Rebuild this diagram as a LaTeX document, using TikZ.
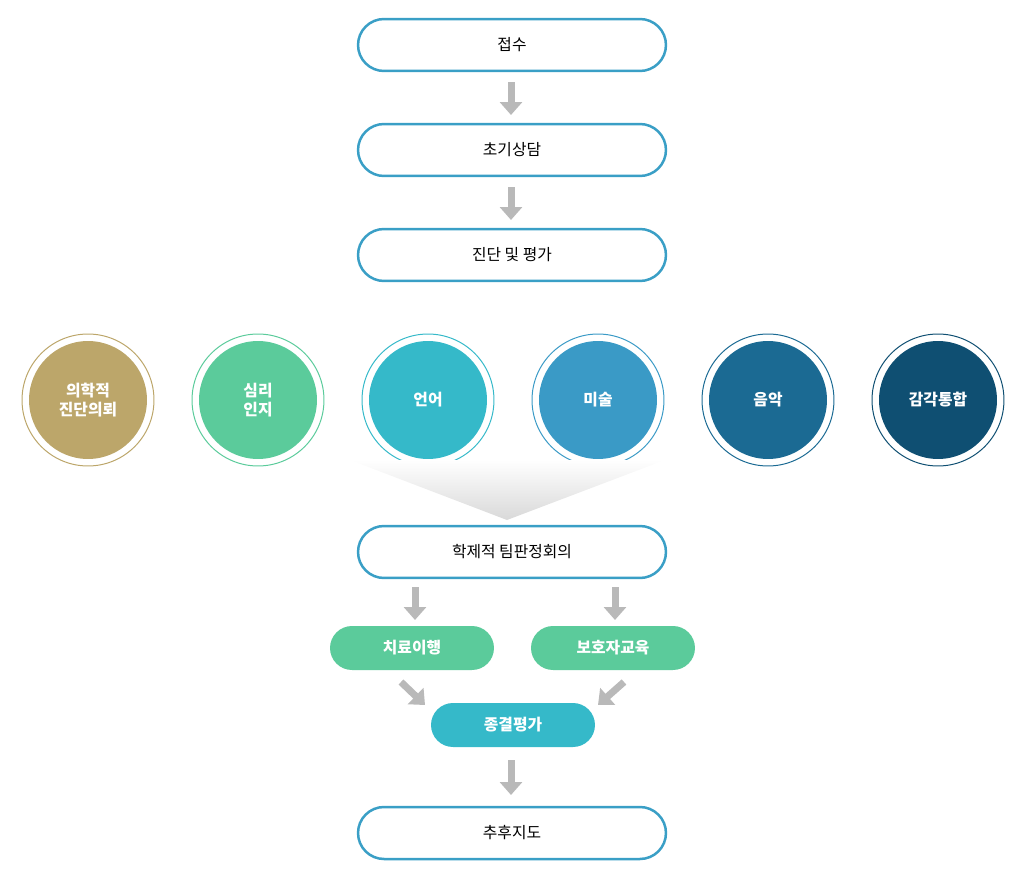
\documentclass[tikz,border=0pt]{standalone}
\usepackage{fontspec}
\setmainfont{Noto Sans CJK KR}
\usetikzlibrary{arrows.meta,positioning}
\definecolor{boxline}{HTML}{3A9FC6}
\definecolor{cgold}{HTML}{BCA66A}
\definecolor{cgreen}{HTML}{5BCB9B}
\definecolor{cteal}{HTML}{35B9C9}
\definecolor{cblue}{HTML}{3A9AC6}
\definecolor{cnavy}{HTML}{1B6A93}
\definecolor{cdeep}{HTML}{0F4F72}
\tikzset{
  stepbox/.style = {draw=boxline, line width=0.05cm, rounded corners=0.52cm,
    minimum width=6.16cm, minimum height=1.04cm, font=\small},
  pill/.style = {fill=#1, rounded corners=0.44cm, minimum width=3.28cm,
    minimum height=0.88cm, text=white, font=\small\bfseries},
  field/.style = {circle, fill=#1, minimum size=2.36cm, text=white,
    font=\small\bfseries, align=center, inner sep=0pt},
  ring/.style = {circle, draw=#1, line width=0.02cm, minimum size=2.64cm},
  flow/.style = {gray!55, line width=0.14cm,
    -{Triangle[width=0.44cm, length=0.26cm]}}
}
\begin{document}
\begin{tikzpicture}[x=0.02cm, y=-0.02cm]
		\useasboundingbox (0,0) rectangle (1022,889);
		%--------------------
		\node[stepbox] (reception) at (512,45) {접수};
		\node[stepbox] (intake) at (512,150) {초기상담};
		\node[stepbox] (assess) at (512,255) {진단 및 평가};

		\draw[flow] (511,82) -- (511,115);
		\draw[flow] (511,187) -- (511,220);

		%--------------------
		\foreach \x/\c/\t [count=\i] in {88/cgold/{의학적\\진단의뢰}, 258/cgreen/{심리\\인지},
		    428/cteal/언어, 598/cblue/미술, 768/cnavy/음악, 938/cdeep/감각통합}{
			\node[ring=\c] (ring\i) at (\x,400) {};
			\node[field=\c] (field\i) at (\x,400) {\t};
		}

		\shade[top color=white, bottom color=gray!30] (350,460) -- (665,460) -- (507,520) -- cycle;

		%--------------------
		\node[stepbox] (meeting) at (512,552) {학제적 팀판정회의};
		\node[pill=cgreen] (therapy) at (412,648) {치료이행};
		\node[pill=cgreen] (parent) at (613,648) {보호자교육};
		\node[pill=cteal] (final) at (513,725) {종결평가};
		\node[stepbox] (followup) at (512,833) {추후지도};

		\draw[flow] (415,587) -- (415,620);
		\draw[flow] (615,587) -- (615,620);
		\draw[flow] (401,682) -- (425,705);
		\draw[flow] (624,682) -- (598,705);
		\draw[flow] (511,760) -- (511,795);
\end{tikzpicture}
\end{document}
